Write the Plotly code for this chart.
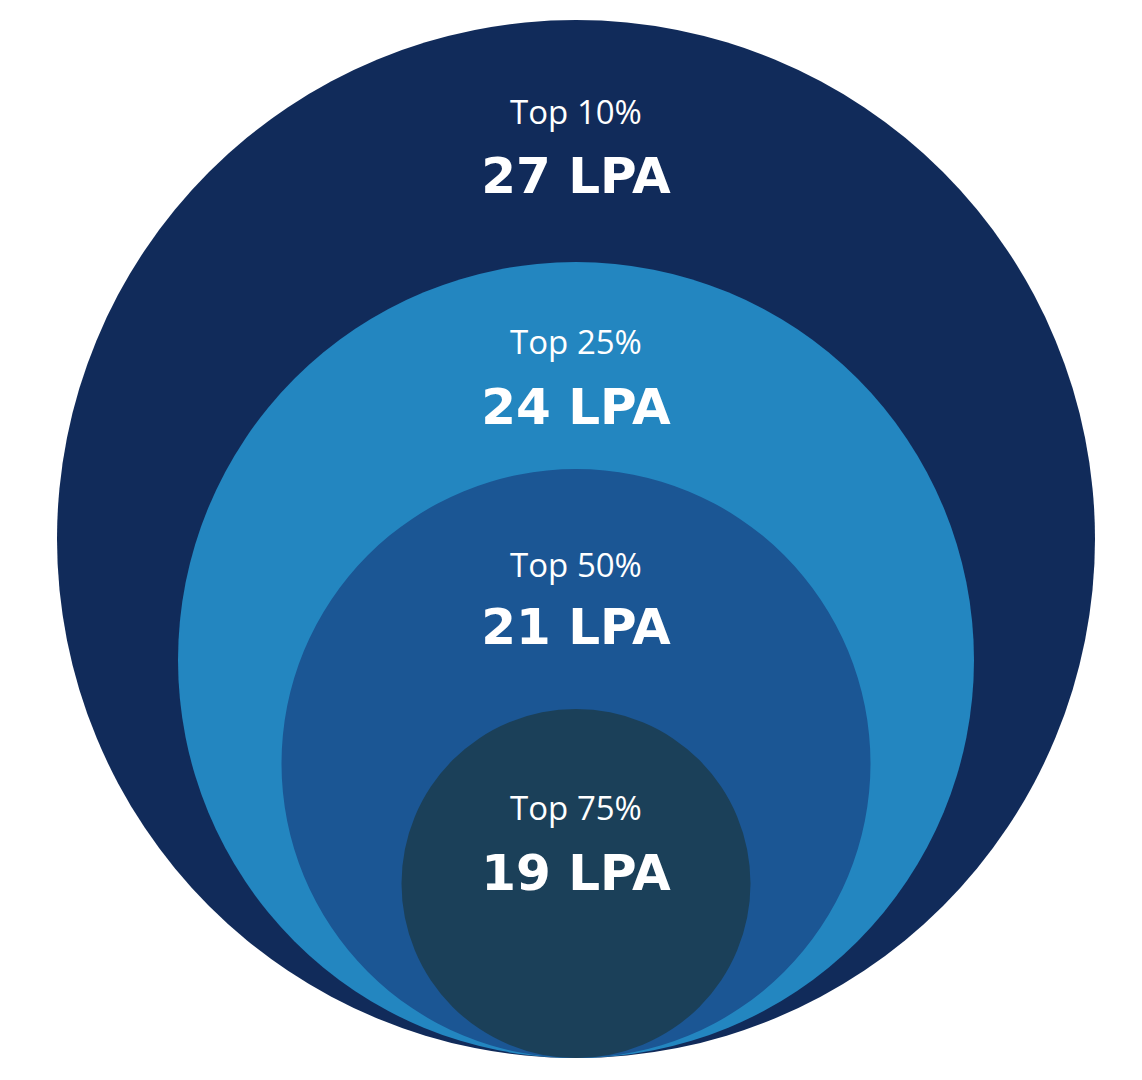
import plotly.graph_objects as go

# Data
tiers = ["Top 10%", "Top 25%", "Top 50%", "Top 75%"]
salaries_lpa = [27, 24, 21, 19]

# Geometry / style (page pixel units; page body has 8px margin)
W, H = 1142, 1080
OFF = 8
cx = 576
bottom_y = 1058
radii = [519, 398, 294.5, 174.5]
colors = ["#112B5A", "#2386C0", "#1B5694", "#1B4059"]
label_y = [116, 346, 569, 812]
value_y = [180, 411, 631, 877]

fig = go.Figure()
shapes = []
for r, c in zip(radii, colors):
    shapes.append(dict(type="circle", xref="x", yref="y",
                       x0=cx - r, x1=cx + r, y0=bottom_y - 2 * r, y1=bottom_y,
                       fillcolor=c, line=dict(width=0), layer="below"))

fig.add_trace(go.Scatter(x=[cx] * len(tiers), y=label_y, mode="text", text=tiers,
                         textfont=dict(family="Open Sans", size=33, color="white"),
                         hoverinfo="skip", showlegend=False))
fig.add_trace(go.Scatter(x=[cx] * len(tiers), y=value_y, mode="text",
                         text=[f"<b>{v} LPA</b>" for v in salaries_lpa],
                         textfont=dict(family="DejaVu Sans", size=50, color="white"),
                         hoverinfo="skip", showlegend=False))

fig.update_layout(
    width=W, height=H, margin=dict(l=0, r=0, t=0, b=0),
    paper_bgcolor="white", plot_bgcolor="white",
    shapes=shapes,
    xaxis=dict(range=[OFF, W + OFF], visible=False, fixedrange=True),
    yaxis=dict(range=[H + OFF, OFF], visible=False, fixedrange=True),
)
fig.write_html("out.html")
